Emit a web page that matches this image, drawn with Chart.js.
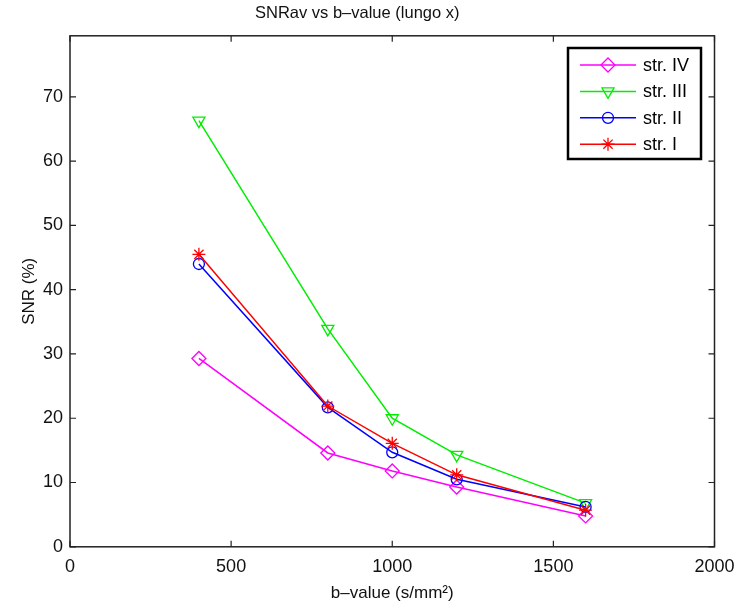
<!DOCTYPE html>
<html>
<head>
<meta charset="utf-8">
<script src="https://cdn.jsdelivr.net/npm/chart.js@4.4.0/dist/chart.umd.min.js"></script>
<style>
  html, body { margin: 0; padding: 0; background: #fff; }
  #wrap { width: 738px; height: 608px; }
</style>
</head>
<body>
<div id="wrap"><canvas id="snrChart"></canvas></div>
<script>
// b-values and mean SNR per stripe
const bValues = [400, 800, 1000, 1200, 1600];
const strIV  = [29.3, 14.6, 11.8, 9.3, 4.8];
const strIII = [66.3, 33.9, 20.0, 14.3, 6.8];
const strII  = [44.0, 21.7, 14.7, 10.5, 6.2];
const strI   = [45.5, 21.9, 16.1, 11.2, 5.7];
const seriesLabels = ["str. IV", "str. III", "str. II", "str. I"];
const xTicks = [0, 500, 1000, 1500, 2000];
const yTicks = [0, 10, 20, 30, 40, 50, 60, 70];

const FONT = "'Liberation Sans', Arial, sans-serif";

function pairs(ys) {
  return bValues.map((b, i) => ({ x: b, y: ys[i] }));
}

function series(label, ys, color, style, radius, rotation, order) {
  return {
    label,
    data: pairs(ys),
    borderColor: color,
    backgroundColor: "transparent",
    borderWidth: 1.5,
    pointStyle: style,
    pointRadius: radius,
    pointRotation: rotation,
    pointBorderColor: color,
    pointBackgroundColor: "transparent",
    pointBorderWidth: 1.3,
    tension: 0,
    order
  };
}

// MATLAB style box with inward ticks on all four sides
const axesBox = {
  id: "axesBox",
  afterDatasetsDraw(chart) {
    const { ctx, chartArea: a, scales } = chart;
    ctx.save();
    ctx.strokeStyle = "#222";
    ctx.lineWidth = 1.5;
    ctx.strokeRect(a.left, a.top, a.right - a.left, a.bottom - a.top);
    ctx.lineWidth = 1.2;
    const len = 6;
    ctx.beginPath();
    xTicks.forEach(v => {
      const px = scales.x.getPixelForValue(v);
      ctx.moveTo(px, a.bottom); ctx.lineTo(px, a.bottom - len);
      ctx.moveTo(px, a.top); ctx.lineTo(px, a.top + len);
    });
    yTicks.forEach(v => {
      const py = scales.y.getPixelForValue(v);
      ctx.moveTo(a.left, py); ctx.lineTo(a.left + len, py);
      ctx.moveTo(a.right, py); ctx.lineTo(a.right - len, py);
    });
    ctx.stroke();
    ctx.restore();
  }
};

// legend box in the upper right corner, rows listed as in seriesLabels
const boxLegend = {
  id: "boxLegend",
  afterDraw(chart) {
    const { ctx } = chart;
    const x0 = 568, y0 = 48, w = 133, h = 111;
    ctx.save();
    ctx.fillStyle = "#fff";
    ctx.fillRect(x0, y0, w, h);
    ctx.strokeStyle = "#000";
    ctx.lineWidth = 2.5;
    ctx.strokeRect(x0, y0, w, h);
    ctx.font = "18px " + FONT;
    ctx.textBaseline = "middle";
    seriesLabels.forEach((label, i) => {
      const ds = chart.data.datasets.find(d => d.label === label);
      const y = 65 + i * 26.4;
      ctx.strokeStyle = ds.borderColor;
      ctx.lineWidth = 1.5;
      ctx.beginPath();
      ctx.moveTo(580, y); ctx.lineTo(636, y);
      ctx.stroke();
      ctx.lineWidth = ds.pointBorderWidth;
      ctx.fillStyle = "transparent";
      Chart.helpers.drawPoint(ctx, {
        pointStyle: ds.pointStyle,
        radius: ds.pointRadius,
        rotation: ds.pointRotation,
        borderWidth: ds.pointBorderWidth
      }, 608, y);
      ctx.fillStyle = "#000";
      ctx.fillText(label, 643, y + 1);
    });
    ctx.restore();
  }
};

new Chart(document.getElementById("snrChart"), {
  type: "line",
  data: {
    datasets: [
      series("str. IV", strIV, "#ff00ff", "rectRot", 7, 0, 4),
      series("str. III", strIII, "#00ee00", "triangle", 7, 180, 3),
      series("str. II", strII, "#0000ff", "circle", 5.5, 0, 2),
      series("str. I", strI, "#ff0000", "star", 6.5, 0, 1)
    ]
  },
  options: {
    responsive: true,
    maintainAspectRatio: false,
    animation: false,
    layout: { padding: { left: 0, right: 23.5, top: 0, bottom: 0 } },
    plugins: {
      legend: { display: false },
      tooltip: { enabled: false },
      title: {
        display: true,
        text: "SNRav vs b–value (lungo x)",
        color: "#111",
        font: { family: FONT, size: 16.5, weight: "normal" },
        padding: { top: 4, bottom: 12 }
      }
    },
    scales: {
      x: {
        type: "linear",
        min: 0, max: 2000,
        afterBuildTicks: s => { s.ticks = xTicks.map(v => ({ value: v })); },
        afterFit: s => {
          s.height = 61.2;
          // let the end labels hang past the plot box
          s.paddingLeft = 0;
          s.paddingRight = 0;
        },
        grid: { display: false, drawTicks: false },
        border: { display: false },
        ticks: {
          color: "#111", padding: 9, maxRotation: 0,
          font: { family: FONT, size: 18 },
          callback: v => String(v)
        },
        title: {
          display: true,
          text: "b–value (s/mm²)",
          color: "#111",
          padding: { top: 0, bottom: 4 },
          font: { family: FONT, size: 17 }
        }
      },
      y: {
        min: 0, max: 79.5,
        afterBuildTicks: s => { s.ticks = yTicks.map(v => ({ value: v })); },
        afterFit: s => { s.width = 70; },
        grid: { display: false, drawTicks: false },
        border: { display: false },
        ticks: { color: "#111", padding: 7, font: { family: FONT, size: 18 } },
        title: {
          display: true,
          text: "SNR (%)",
          color: "#111",
          padding: { top: 19, bottom: 0 },
          font: { family: FONT, size: 17 }
        }
      }
    }
  },
  plugins: [axesBox, boxLegend]
});
</script>
</body>
</html>
